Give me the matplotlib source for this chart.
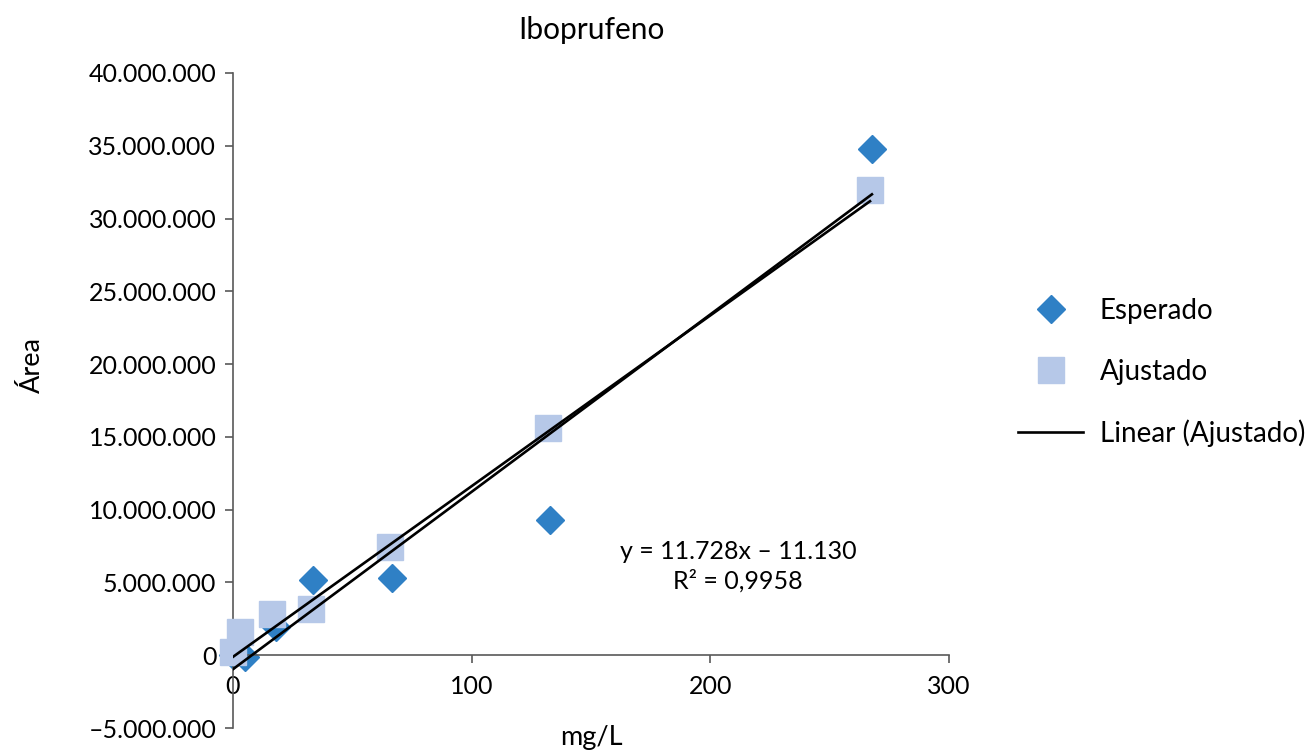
import numpy as np
import matplotlib
matplotlib.use("Agg")
import matplotlib.pyplot as plt
from matplotlib.ticker import FuncFormatter

plt.rcParams['font.family'] = ['Lato', 'DejaVu Sans']

# data (area in counts, concentration in mg/L)
esperado_x = [0, 5, 18, 33.5, 66.6, 132.8, 267.7]
esperado_y = [0, -100000, 1950000, 5150000, 5290000, 9280000, 34780000]
ajustado_x = [0, 2.9, 16.3, 32.7, 65.8, 132, 266.9]
ajustado_y = [200000, 1580000, 2820000, 3160000, 7420000, 15600000, 31960000]

# trend lines (slope, intercept)
trend_ajustado = (117280, -111300)
trend_esperado = (121870, -960000)

title = "Iboprufeno"
xlabel = "mg/L"
ylabel = "Área"
eq_text = "y = 11.728x – 11.130\nR² = 0,9958"

c_esp = '#2F80C5'
c_aju = '#B6C8E8'
gray = '#595959'

fig = plt.figure(figsize=(13.06, 7.5), dpi=100)
ax = fig.add_axes([233/1306, 1-728/750, (949-233)/1306, (728-73)/750])

ax.plot(esperado_x, esperado_y, linestyle='none', marker='D', markersize=14.5,
        color=c_esp, label='Esperado', zorder=2, clip_on=False)
ax.plot(ajustado_x, ajustado_y, linestyle='none', marker='s', markersize=19,
        color=c_aju, label='Ajustado', zorder=3, clip_on=False)

xs = np.array([min(esperado_x), max(esperado_x)])
ax.plot(xs, trend_esperado[0]*xs + trend_esperado[1], color='black', lw=1.9,
        label='_nolegend_', zorder=4)
xs = np.array([min(ajustado_x), max(ajustado_x)])
ax.plot(xs, trend_ajustado[0]*xs + trend_ajustado[1], color='black', lw=1.9,
        label='Linear (Ajustado)', zorder=4)

ax.set_xlim(0, 300)
ax.set_ylim(-5000000, 40000000)
ax.set_xticks([0, 100, 200, 300])
ax.set_yticks(np.arange(-5000000, 40000001, 5000000))

def fmt(v, pos):
    s = f"{abs(int(round(v))):,}".replace(",", ".")
    return ("–" if v < 0 else "") + s
ax.yaxis.set_major_formatter(FuncFormatter(fmt))

for s in ['top', 'right']:
    ax.spines[s].set_visible(False)
ax.spines['bottom'].set_position(('data', 0))
for s in ['left', 'bottom']:
    ax.spines[s].set_color(gray)
    ax.spines[s].set_linewidth(1.2)
ax.tick_params(axis='both', direction='out', length=6, width=1.2, color=gray,
               labelsize=18, labelcolor='black')
ax.tick_params(axis='x', pad=8)
ax.tick_params(axis='y', pad=6)

fig.text(591/1306, 1-30/750, title, ha='center', va='center', fontsize=21.5)
fig.text(591/1306, 1-738/750, xlabel, ha='center', va='center', fontsize=19.5)
fig.text(32/1306, 1-365/750, ylabel, ha='center', va='center', fontsize=19.5,
         rotation=90)
fig.text(738/1306, 1-566/750, eq_text, ha='center', va='center', fontsize=18,
         linespacing=1.3)

fig.legend(loc='upper left', bbox_to_anchor=(1018/1306, 1-298/750),
           frameon=False, fontsize=20, handlelength=2.35, handletextpad=0.6,
           labelspacing=1.25, borderpad=0, borderaxespad=0)

fig.savefig("out.png", dpi=100)
